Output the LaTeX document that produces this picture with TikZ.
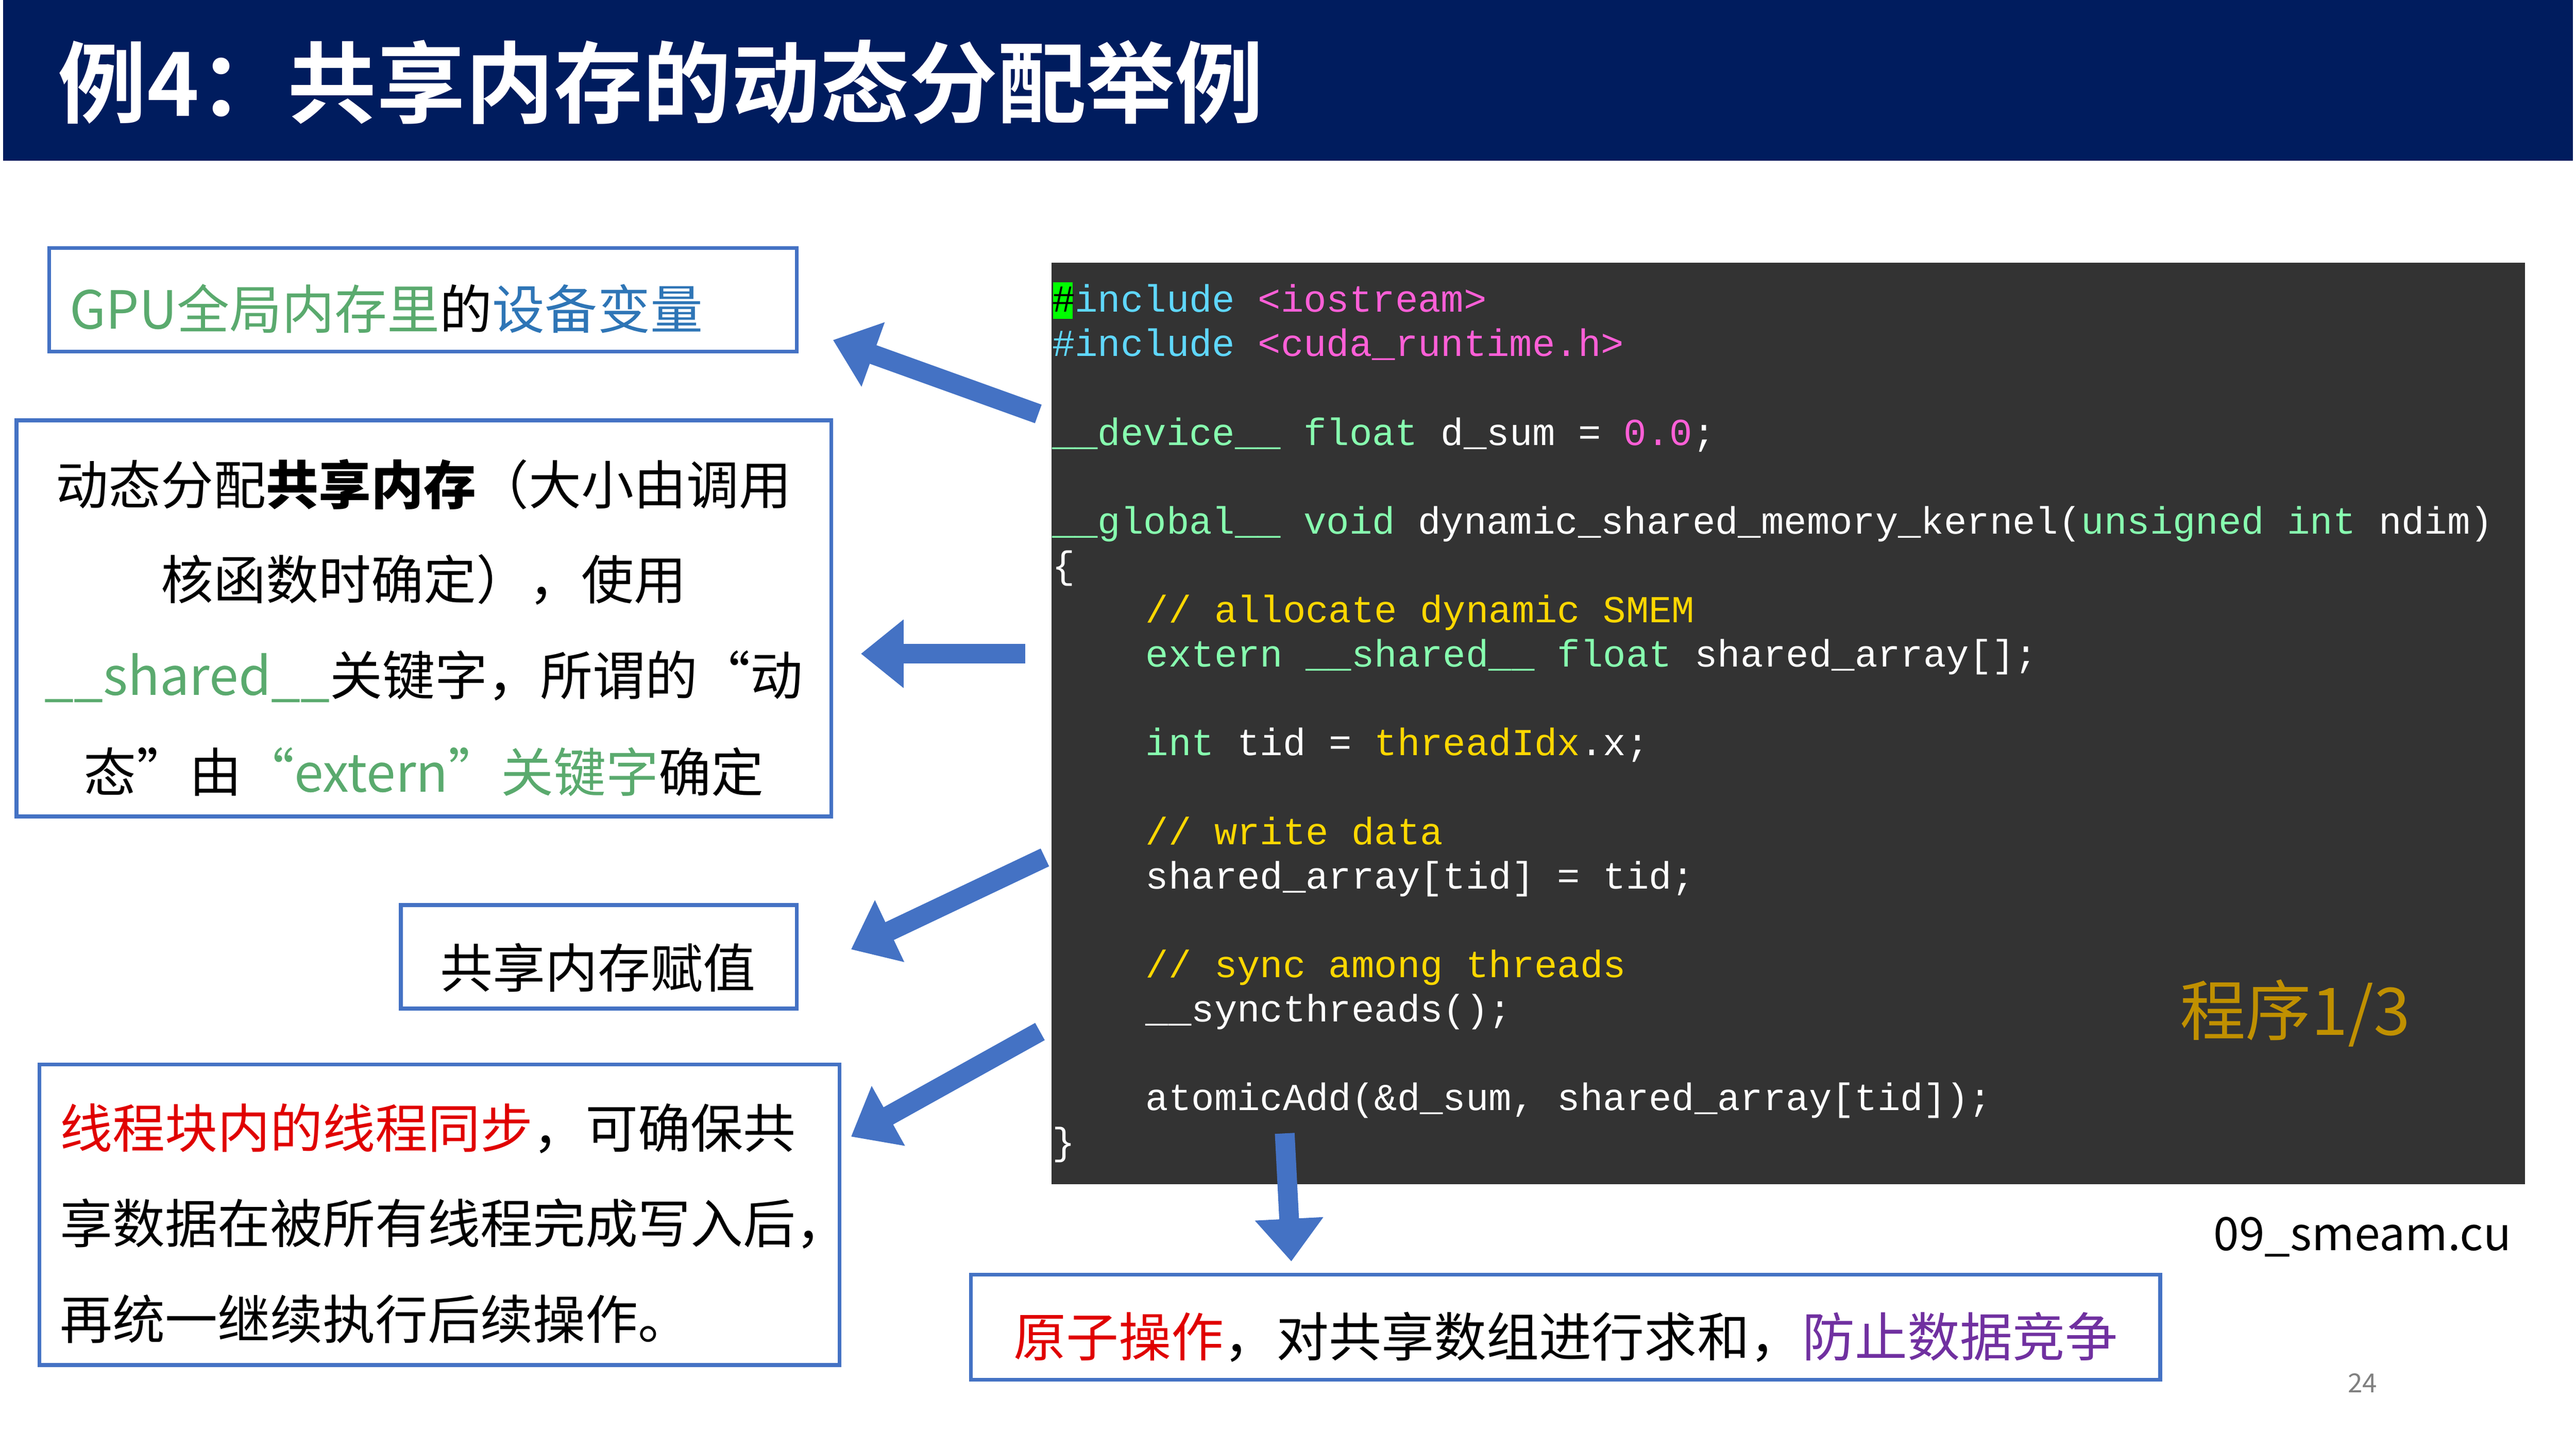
\documentclass[tikz,border=0pt]{standalone}
\usepackage{fontspec}
\setmainfont{Noto Sans CJK SC}
\setmonofont{Liberation Mono}
\newfontfamily\cjkb{Noto Sans CJK SC Bold}
\usetikzlibrary{arrows.meta}
\definecolor{navy}{HTML}{001C5E}
\definecolor{codebg}{HTML}{333333}
\definecolor{cinc}{HTML}{5FD7FF}
\definecolor{cpink}{HTML}{FF5FD7}
\definecolor{ckw}{HTML}{87FFAF}
\definecolor{ccom}{HTML}{FFD700}
\definecolor{bord}{HTML}{4472C4}
\definecolor{tgreen}{HTML}{5AAA6E}
\definecolor{tblue}{HTML}{2E75B6}
\definecolor{tred}{HTML}{E00000}
\definecolor{tpurple}{HTML}{7030A0}
\definecolor{gold}{HTML}{C09000}
\begin{document}
\begin{tikzpicture}[x=0.5pt,y=-0.5pt,
  box/.style={draw=bord,line width=1.2pt},
  txt/.style={font=\fontsize{16}{20}\selectfont,inner sep=0pt},
  code/.style={font=\ttfamily\fontsize{11.6}{13}\selectfont,text=white,anchor=base west,inner sep=0pt},
  fat/.style={draw=bord,line width=6pt,-{Triangle[width=20pt,length=13pt]}}]
\useasboundingbox (0,0) rectangle (1568,882);
\fill[white] (0,0) rectangle (1568,882);
\fill[navy] (2,0) rectangle (1566,98);
\node[anchor=west,text=white,inner sep=0pt] (title) at (35,50) {\cjkb\fontsize{27}{30}\selectfont 例4：共享内存的动态分配举例};
% code panel
\fill[codebg] (640,160) rectangle (1537,721);
\fill[green] (641,172) rectangle (653,194);
\node[code] (l1) at (640,190) {\textcolor{black}{\#}\textcolor{cinc}{include} \textcolor{cpink}{<iostream>}};
\node[code] (l2) at (640,217) {\textcolor{cinc}{\#include} \textcolor{cpink}{<cuda\_runtime.h>}};
\node[code] (l3) at (640,271) {\textcolor{ckw}{\_\_device\_\_ float} d\_sum = \textcolor{cpink}{0.0};};
\node[code] (l4) at (640,325) {\textcolor{ckw}{\_\_global\_\_ void} dynamic\_shared\_memory\_kernel(\textcolor{ckw}{unsigned int} ndim)};
\node[code] (l5) at (640,352) {\{};
\node[code] (l6) at (697,379) {\textcolor{ccom}{// allocate dynamic SMEM}};
\node[code] (l7) at (697,406) {\textcolor{ckw}{extern \_\_shared\_\_ float} shared\_array[];};
\node[code] (l8) at (697,460) {\textcolor{ckw}{int} tid = \textcolor{ccom}{threadIdx}.x;};
\node[code] (l9) at (697,514) {\textcolor{ccom}{// write data}};
\node[code] (l10) at (697,541) {shared\_array[tid] = tid;};
\node[code] (l11) at (697,595) {\textcolor{ccom}{// sync among threads}};
\node[code] (l12) at (697,622) {\_\_syncthreads();};
\node[code] (l13) at (697,676) {atomicAdd(\&d\_sum, shared\_array[tid]);};
\node[code] (l14) at (640,703) {\}};
\node[text=gold,font=\fontsize{20}{24}\selectfont,inner sep=0pt] (prog) at (1397,617) {程序1/3};
\node[font=\fontsize{14}{16}\selectfont,inner sep=0pt] (fname) at (1438,753) {09\_smeam.cu};
\node[text=gray,font=\fontsize{8}{10}\selectfont,inner sep=0pt] (pg) at (1438,842) {24};
% boxes
\draw[box] (30,151) rectangle (485,214);
\node[txt,anchor=west] (b1) at (42,188) {\textcolor{tgreen}{GPU全局内存里}的\textcolor{tblue}{设备变量}};
\draw[box] (10,256) rectangle (506,497);
\node[txt] (b2a) at (258,295) {动态分配\textbf{\cjkb 共享内存}（大小由调用};
\node[txt] (b2b) at (258,353) {核函数时确定），使用};
\node[txt] (b2c) at (258,412) {\textcolor{tgreen}{\_\_shared\_\_}关键字，所谓的“动};
\node[txt] (b2d) at (258,470) {态”由\textcolor{tgreen}{“extern”关键字}确定};
\draw[box] (244,551) rectangle (485,614);
\node[txt] (b3) at (364,589) {共享内存赋值};
\draw[box] (24,648) rectangle (511,831);
\node[txt,anchor=west] (b4a) at (36,687) {\textcolor{tred}{线程块内的线程同步}，可确保共};
\node[txt,anchor=west] (b4b) at (36,745) {享数据在被所有线程完成写入后，};
\node[txt,anchor=west] (b4c) at (36,803) {再统一继续执行后续操作。};
\draw[box] (591,776) rectangle (1315,840);
\node[txt] (b5) at (953,814) {\textcolor{tred}{原子操作}，对共享数组进行求和，\textcolor{tpurple}{防止数据竞争}};
% arrows
\coordinate (a1s) at (632,252); \coordinate (a1e) at (507,207);
\coordinate (a2s) at (624,398); \coordinate (a2e) at (524,398);
\coordinate (a3s) at (636,522); \coordinate (a3e) at (518,578);
\coordinate (a4s) at (633,628); \coordinate (a4e) at (518,692);
\coordinate (a5s) at (782,690); \coordinate (a5e) at (786,768);
\draw[fat] (a1s) -- (a1e);
\draw[fat] (a2s) -- (a2e);
\draw[fat] (a3s) -- (a3e);
\draw[fat] (a4s) -- (a4e);
\draw[fat] (a5s) -- (a5e);
\end{tikzpicture}
\end{document}
